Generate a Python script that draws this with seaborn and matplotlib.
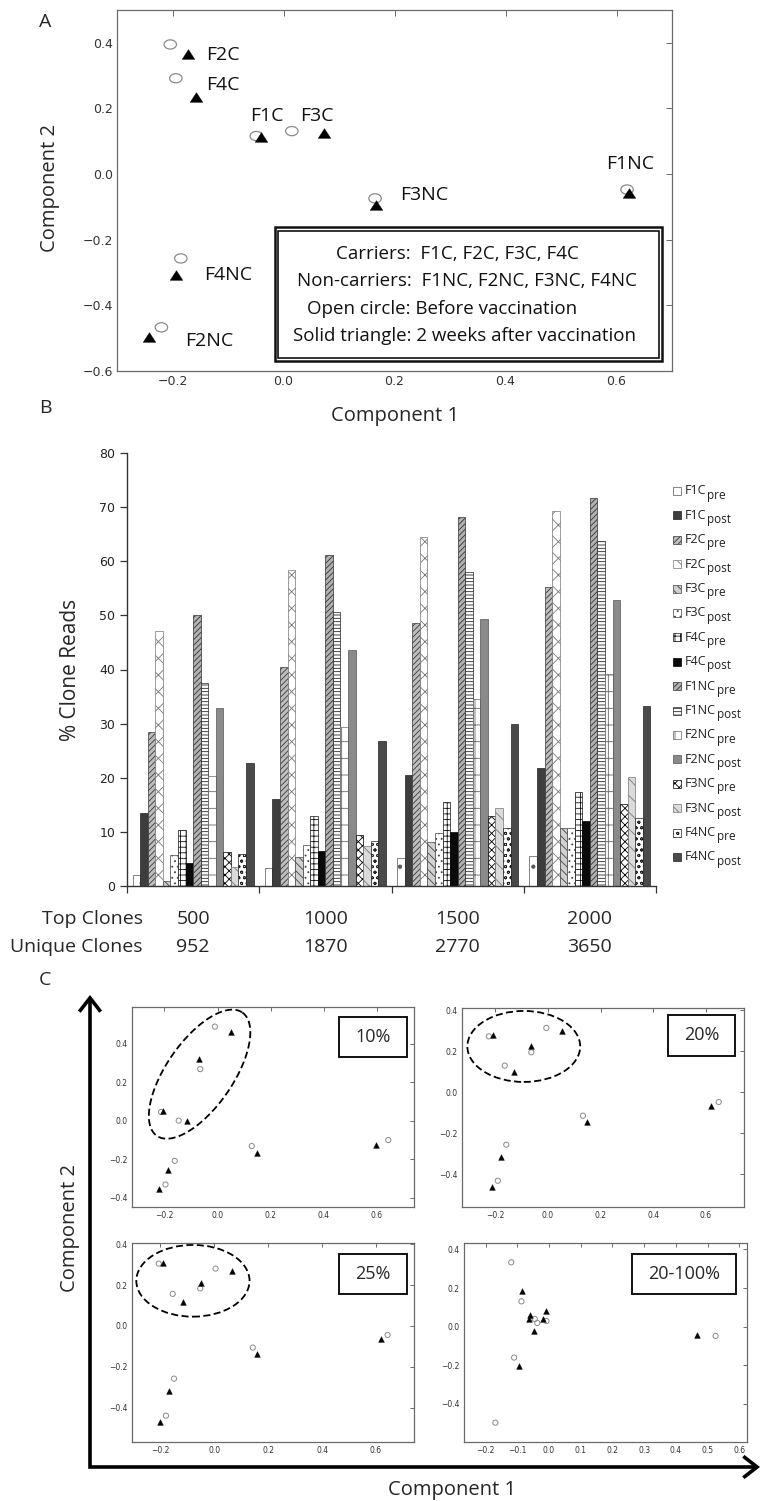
import numpy as np
import pandas as pd
import matplotlib
matplotlib.use("Agg")
import matplotlib.pyplot as plt
import seaborn as sns
from matplotlib.patches import Rectangle, Ellipse, FancyArrowPatch
from matplotlib.path import Path
from matplotlib.text import Annotation
from matplotlib.transforms import blended_transform_factory

# ---------------- data : panel A ----------------
subjects = ["F1C", "F2C", "F3C", "F4C", "F1NC", "F2NC", "F3NC", "F4NC"]
A_pre_x = [-0.049, -0.204, 0.015, -0.194, 0.619, -0.220, 0.165, -0.185]
A_pre_y = [0.116, 0.395, 0.131, 0.292, -0.047, -0.467, -0.074, -0.257]
A_post_x = [-0.040, -0.172, 0.073, -0.157, 0.623, -0.242, 0.167, -0.193]
A_post_y = [0.114, 0.366, 0.124, 0.235, -0.059, -0.496, -0.094, -0.309]

box_lines = ["Carriers:  F1C, F2C, F3C, F4C",
             "Non-carriers:  F1NC, F2NC, F3NC, F4NC",
             "Open circle: Before vaccination",
             "Solid triangle: 2 weeks after vaccination"]

# ---------------- data : panel B ----------------
groups = ["500", "1000", "1500", "2000"]
unique_clones = ["952", "1870", "2770", "3650"]
series_main = ["F1C", "F1C", "F2C", "F2C", "F3C", "F3C", "F4C", "F4C",
               "F1NC", "F1NC", "F2NC", "F2NC", "F3NC", "F3NC", "F4NC", "F4NC"]
series_sub = ["pre", "post"] * 8
top500 = [2.0, 13.4, 28.5, 47.1, 1.0, 5.7, 10.4, 4.2, 50.0, 37.5, 20.3, 32.9, 6.2, 3.5, 6.0, 22.7]
top1000 = [3.3, 16.1, 40.4, 58.3, 5.3, 7.5, 13.0, 6.5, 61.1, 50.6, 29.3, 43.6, 9.4, 7.4, 8.3, 26.7]
top1500 = [5.1, 20.5, 48.6, 64.5, 8.1, 9.7, 15.6, 9.9, 68.1, 58.0, 34.5, 49.3, 12.9, 14.5, 10.8, 30.0]
top2000 = [5.5, 21.8, 55.2, 69.2, 10.7, 10.8, 17.3, 12.0, 71.6, 63.8, 39.2, 52.9, 15.1, 20.1, 12.6, 33.3]

# ---------------- data : panel C ----------------
c10_pre_x = [-0.010, -0.065, -0.2125, -0.146, 0.129, 0.643, -0.161, -0.196]
c10_pre_y = [0.489, 0.268, 0.045, 0.0, -0.132, -0.101, -0.209, -0.332]
c10_post_x = [0.0525, -0.069, -0.205, -0.116, 0.149, 0.596, -0.1875, -0.219]
c10_post_y = [0.459, 0.322, 0.052, 0.0, -0.169, -0.125, -0.254, -0.353]

c20_pre_x = [-0.224, -0.006, -0.063, -0.164, 0.133, 0.648, -0.158, -0.190]
c20_pre_y = [0.273, 0.314, 0.195, 0.130, -0.114, -0.047, -0.255, -0.431]
c20_post_x = [-0.207, 0.054, -0.063, -0.128, 0.150, 0.618, -0.177, -0.211]
c20_post_y = [0.278, 0.299, 0.226, 0.099, -0.146, -0.067, -0.314, -0.462]

c25_pre_x = [-0.206, 0.005, -0.052, -0.154, 0.143, 0.643, -0.149, -0.179]
c25_pre_y = [0.305, 0.281, 0.184, 0.157, -0.106, -0.044, -0.258, -0.439]
c25_post_x = [-0.189, 0.065, -0.049, -0.117, 0.158, 0.617, -0.168, -0.202]
c25_post_y = [0.307, 0.268, 0.209, 0.119, -0.136, -0.062, -0.318, -0.469]

c2100_pre_x = [-0.119, -0.087, -0.045, -0.037, -0.008, -0.110, -0.169, 0.525]
c2100_pre_y = [0.333, 0.131, 0.040, 0.019, 0.029, -0.160, -0.497, -0.048]
c2100_post_x = [-0.085, -0.011, -0.059, -0.063, -0.019, -0.046, -0.095, 0.466]
c2100_post_y = [0.184, 0.083, 0.059, 0.038, 0.041, -0.021, -0.202, -0.043]

panel_tags = ["10%", "20%", "25%", "20-100%"]

# ---------------- style ----------------
W, H = 762, 1501
sns.set_theme(style="white")
plt.rcParams["font.family"] = ["Open Sans", "DejaVu Sans"]
plt.rcParams["hatch.linewidth"] = 0.6
plt.rcParams["axes.unicode_minus"] = True
TICKFONT = ["DejaVu Sans"]

fig = plt.figure(figsize=(W / 100, H / 100), dpi=100)
fig.patch.set_facecolor("white")


def fx(x):
    return x / W


def fy(y):
    return 1 - y / H


def rect(l, t, r, b):
    return [l / W, 1 - b / H, (r - l) / W, (b - t) / H]


def style_pca_axes(ax, tick_len, tick_size, spine_col="#6a6a6a"):
    for sp in ax.spines.values():
        sp.set_visible(True)
        sp.set_color(spine_col)
        sp.set_linewidth(0.9)
    ax.tick_params(direction="in", top=True, right=True, length=tick_len, width=0.7,
                   color=spine_col, labelsize=tick_size, labelcolor="#333333", pad=3)
    for lab in ax.get_xticklabels() + ax.get_yticklabels():
        lab.set_family(TICKFONT)
    ax.set_xlabel("")
    ax.set_ylabel("")


uc = Path.unit_circle()
oval_marker = Path(uc.vertices * np.array([1.35, 1.0]), uc.codes)
wide_tri = Path([(0, 1), (-1.3, -1), (1.3, -1), (0, 1)],
                [Path.MOVETO, Path.LINETO, Path.LINETO, Path.CLOSEPOLY])


def scatter_pair(ax, px, py, qx, qy, cm, tm, sc, st, lwc):
    sns.scatterplot(x=px, y=py, marker=cm, s=sc, color="none", edgecolor="#8a8a8a",
                    linewidth=lwc, ax=ax, legend=False, zorder=3)
    sns.scatterplot(x=qx, y=qy, marker=tm, s=st, color="black", edgecolor="black",
                    linewidth=0.3, ax=ax, legend=False, zorder=4)


# ================= Panel A =================
axA = fig.add_axes(rect(117, 10, 672, 371))
scatter_pair(axA, A_pre_x, A_pre_y, A_post_x, A_post_y, oval_marker, wide_tri, 80, 82, 0.9)
axA.set_xlim(-0.3, 0.7)
axA.set_ylim(-0.6, 0.5)
axA.set_xticks([-0.2, 0.0, 0.2, 0.4, 0.6])
axA.set_yticks([-0.6, -0.4, -0.2, 0.0, 0.2, 0.4])
style_pca_axes(axA, 4, 9)

label_pos = {"F1C": (-0.060, 0.176), "F2C": (-0.140, 0.364), "F3C": (0.030, 0.176),
             "F4C": (-0.140, 0.272), "F1NC": (0.581, 0.031), "F2NC": (-0.177, -0.510),
             "F3NC": (0.211, -0.064), "F4NC": (-0.143, -0.307)}
for name in subjects:
    lx, ly = label_pos[name]
    axA.text(lx, ly, name, ha="left", va="center", fontsize=14, color="#111111")

# double framed info box
bx0, by0, bx1, by1 = -0.016, -0.571, 0.682, -0.162
axA.add_patch(Rectangle((bx0, by0), bx1 - bx0, by1 - by0, facecolor="white",
                        edgecolor="#111111", lw=1.8, zorder=5))
ix, iy = 0.0062, 0.0105
axA.add_patch(Rectangle((bx0 + ix, by0 + iy), bx1 - bx0 - 2 * ix, by1 - by0 - 2 * iy,
                        facecolor="none", edgecolor="#111111", lw=1.2, zorder=6))
line_xy = [(0.314, -0.245), (0.331, -0.3245), (0.286, -0.411), (0.327, -0.493)]
for txt, (tx, ty) in zip(box_lines, line_xy):
    axA.text(tx, ty, txt, ha="center", va="center", fontsize=13.5, color="#111111", zorder=7)

fig.text(fx(395), fy(416), "Component 1", ha="center", va="center", fontsize=14.5)
fig.text(fx(50), fy(188), "Component 2", ha="center", va="center", rotation=90, fontsize=14.5)
fig.text(fx(45), fy(22), "A", ha="center", va="center", fontsize=14)

# ================= Panel B =================
axB = fig.add_axes(rect(127, 453, 656, 886))
rows = []
for g, vals in zip(groups, [top500, top1000, top1500, top2000]):
    for m, s, v in zip(series_main, series_sub, vals):
        rows.append({"group": g, "series": m + s, "value": v})
dfB = pd.DataFrame(rows)
hue_order = [m + s for m, s in zip(series_main, series_sub)]

bar_styles = [
    ("white", ".", "#555555"),        # F1C pre
    ("#3d3d3d", "", "#222222"),       # F1C post
    ("#bdbdbd", "//////", "#3a3a3a"), # F2C pre
    ("white", "xx", "#777777"),       # F2C post
    ("#d0d0d0", "\\\\\\\\", "#444444"),  # F3C pre
    ("white", "...", "#444444"),      # F3C post
    ("white", "+++", "#111111"),      # F4C pre
    ("#0a0a0a", "", "#000000"),       # F4C post
    ("#b0b0b0", "//////", "#333333"), # F1NC pre
    ("white", "-----", "#222222"),    # F1NC post
    ("white", "+", "#666666"),        # F2NC pre
    ("#8a8a8a", "", "#555555"),       # F2NC post
    ("white", "XXXX", "#000000"),     # F3NC pre
    ("#dadada", "\\\\", "#777777"),   # F3NC post
    ("white", "ooo", "#222222"),      # F4NC pre
    ("#4a4a4a", "", "#222222"),       # F4NC post
]

sns.barplot(data=dfB, x="group", y="value", hue="series", order=groups, hue_order=hue_order,
            palette=[s[0] for s in bar_styles], saturation=1, width=16 / 17.5,
            errorbar=None, legend=False, ax=axB, linewidth=0.5, edgecolor="#333333")
for cont, (fc, hat, ec) in zip(axB.containers, bar_styles):
    for bar in cont:
        bar.set_facecolor(fc)
        bar.set_hatch(hat)
        bar.set_edgecolor(ec)
        bar.set_linewidth(0.5)

axB.set_xlim(-0.5, 3.5)
axB.set_ylim(0, 80)
axB.set_yticks(range(0, 81, 10))
axB.set_xticks([-0.5, 0.5, 1.5, 2.5, 3.5])
axB.set_xticklabels([])
axB.set_xlabel("")
axB.set_ylabel("")
for side in ["top", "right"]:
    axB.spines[side].set_visible(False)
for side in ["left", "bottom"]:
    axB.spines[side].set_color("#333333")
    axB.spines[side].set_linewidth(1.0)
axB.tick_params(axis="both", direction="out", length=5, width=0.9, color="#333333",
                labelsize=9, labelcolor="#222222", left=True, bottom=True)
for lab in axB.get_yticklabels():
    lab.set_family(TICKFONT)

tr = blended_transform_factory(axB.transData, fig.transFigure)
for i, (g, u) in enumerate(zip(groups, unique_clones)):
    axB.text(i, fy(919), g, transform=tr, ha="center", va="center", fontsize=14)
    axB.text(i, fy(947), u, transform=tr, ha="center", va="center", fontsize=14)
fig.text(fx(143), fy(919), "Top Clones", ha="right", va="center", fontsize=14)
fig.text(fx(143), fy(947), "Unique Clones", ha="right", va="center", fontsize=14)
fig.text(fx(70), fy(670), "% Clone Reads", ha="center", va="center", rotation=90, fontsize=15)
fig.text(fx(45), fy(408), "B", ha="center", va="center", fontsize=14)

# manual legend (same-size lowered subscripts)
for k, ((fc, hat, ec), m, s) in enumerate(zip(bar_styles, series_main, series_sub)):
    yc = 491 + k * 24.4
    fig.add_artist(Rectangle((fx(673), fy(yc + 4)), 8 / W, 8 / H, transform=fig.transFigure,
                             facecolor=fc, hatch=hat, edgecolor=ec, lw=0.5))
    t = fig.text(fx(685), fy(yc), m, ha="left", va="center", fontsize=9, color="#222222")
    fig.add_artist(Annotation(s, xy=(1, 0), xycoords=t, xytext=(0.6, -2.9),
                              textcoords="offset points", ha="left", va="bottom",
                              fontsize=8.5, color="#222222"))

# ================= Panel C =================
c_specs = [
    (rect(132, 1007, 414, 1207), c10_pre_x, c10_pre_y, c10_post_x, c10_post_y,
     (-0.322, 0.74), (-0.449, 0.591), [-0.2, 0.0, 0.2, 0.4, 0.6], (0.734, 0.75, 0.975, 0.95)),
    (rect(462, 1008, 744, 1207), c20_pre_x, c20_pre_y, c20_post_x, c20_post_y,
     (-0.326, 0.744), (-0.559, 0.411), [-0.2, 0.0, 0.2, 0.4, 0.6], (0.73, 0.76, 0.968, 0.965)),
    (rect(132, 1243, 414, 1442), c25_pre_x, c25_pre_y, c25_post_x, c25_post_y,
     (-0.305, 0.741), (-0.568, 0.406), [-0.2, 0.0, 0.2, 0.4, 0.6], (0.734, 0.744, 0.975, 0.945)),
    (rect(464, 1243, 747, 1442), c2100_pre_x, c2100_pre_y, c2100_post_x, c2100_post_y,
     (-0.268, 0.624), (-0.597, 0.433), [-0.2, -0.1, 0.0, 0.1, 0.2, 0.3, 0.4, 0.5, 0.6],
     (0.594, 0.744, 0.961, 0.945)),
]
c_axes = []
for (r, px, py, qx, qy, xl, yl, xt, bb), tag in zip(c_specs, panel_tags):
    ax = fig.add_axes(r)
    scatter_pair(ax, px, py, qx, qy, "o", "^", 14, 17, 0.7)
    ax.set_xlim(*xl)
    ax.set_ylim(*yl)
    ax.set_xticks(xt)
    ax.set_yticks([-0.4, -0.2, 0.0, 0.2, 0.4])
    style_pca_axes(ax, 3, 5.5)
    ax.add_patch(Rectangle((bb[0], bb[1]), bb[2] - bb[0], bb[3] - bb[1], transform=ax.transAxes,
                           facecolor="white", edgecolor="#111111", lw=1.4, zorder=6))
    ax.text((bb[0] + bb[2]) / 2, (bb[1] + bb[3]) / 2, tag, transform=ax.transAxes,
            ha="center", va="center", fontsize=13, zorder=7)
    c_axes.append(ax)

# dashed clusters
dash = (0, (3.9, 1.9))
t = np.linspace(0, 2 * np.pi, 200)
cen = np.array([-0.0675, 0.2417])
u = np.array([0.1613, 0.3205])
v = np.array([0.1024, -0.0998])
ell = cen[:, None] + np.outer(u, np.cos(t)) + np.outer(v, np.sin(t))
c_axes[0].plot(ell[0], ell[1], color="black", lw=1.3, linestyle=dash, zorder=2)
c_axes[1].add_patch(Ellipse((-0.0916, 0.2236), 2 * 0.214, 2 * 0.173, fill=False,
                            edgecolor="black", lw=1.3, linestyle=dash, zorder=2))
c_axes[2].add_patch(Ellipse((-0.079, 0.221), 2 * 0.21, 2 * 0.1755, fill=False,
                            edgecolor="black", lw=1.3, linestyle=dash, zorder=2))

# big L-shaped axes arrows
arrow_path = Path([(fx(90), fy(995)), (fx(90), fy(1467)), (fx(760), fy(1467))])
fig.add_artist(FancyArrowPatch(path=arrow_path, transform=fig.transFigure,
                               arrowstyle="<->,head_length=0.45,head_width=0.35",
                               mutation_scale=22, lw=2.6, color="black",
                               joinstyle="miter", capstyle="butt"))
fig.text(fx(70), fy(1228), "Component 2", ha="center", va="center", rotation=90, fontsize=14.5)
fig.text(fx(452), fy(1490), "Component 1", ha="center", va="center", fontsize=14.5)
fig.text(fx(45), fy(980), "C", ha="center", va="center", fontsize=14)

fig.savefig("out.png", dpi=100, facecolor="white")
